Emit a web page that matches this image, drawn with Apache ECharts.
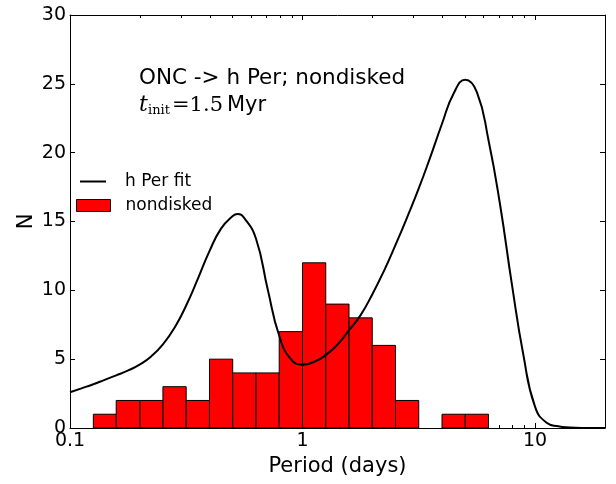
<!DOCTYPE html>
<html>
<head>
<meta charset="utf-8">
<script src="https://cdn.jsdelivr.net/npm/echarts@6/dist/echarts.min.js"></script>
<style>
html,body{margin:0;padding:0;background:#fff;}
#chart{width:616px;height:484px;}
</style>
</head>
<body>
<div id="chart"></div>
<script>
// Histogram bins (log-spaced, 0.1 dex) and counts of nondisked stars
const binLo  = [0.126, 0.158, 0.200, 0.251, 0.316, 0.398, 0.501, 0.631, 0.794, 1.000, 1.259, 1.585, 1.995, 2.512, 3.981, 5.012];
const binHi  = [0.158, 0.200, 0.251, 0.316, 0.398, 0.501, 0.631, 0.794, 1.000, 1.259, 1.585, 1.995, 2.512, 3.162, 5.012, 6.310];
const counts = [1, 2, 2, 3, 2, 5, 4, 4, 7, 12, 9, 8, 6, 2, 1, 1];

// h Per fit curve
const fitPeriod = [0.1, 0.112, 0.126, 0.141, 0.158, 0.178, 0.2, 0.224, 0.251, 0.282, 0.316, 0.355, 0.398, 0.447, 0.501, 0.525, 0.562, 0.631, 0.708, 0.794, 0.891, 1.0, 1.122, 1.259, 1.413, 1.585, 1.778, 1.995, 2.239, 2.512, 2.818, 3.162, 3.548, 3.981, 4.467, 5.012, 5.623, 6.310, 7.079, 7.943, 8.913, 10.0, 11.22, 12.59, 14.13, 15.85, 20];
const fitN      = [2.6, 2.88, 3.18, 3.5, 3.82, 4.18, 4.62, 5.22, 6.08, 7.3, 8.9, 10.85, 12.85, 14.5, 15.4, 15.55, 15.25, 13.75, 10.1, 6.7, 5.0, 4.6, 4.8, 5.3, 6.05, 7.1, 8.2, 9.7, 11.4, 13.3, 15.3, 17.4, 19.7, 22.1, 24.3, 25.3, 24.4, 20.9, 16.2, 10.5, 5.3, 1.55, 0.38, 0.12, 0.03, 0, 0];

// Tick values
const xMajorTicks = [0.1, 1, 10];
const xMinorTicks = [0.2, 0.3, 0.4, 0.5, 0.6, 0.7, 0.8, 0.9, 2, 3, 4, 5, 6, 7, 8, 9, 20];

const FONT = 'DejaVu Sans';
const chart = echarts.init(document.getElementById('chart'), null, {renderer: 'canvas'});

const histData = binLo.map((lo, i) => [lo, binHi[i], counts[i]]);
const fitData = fitPeriod.map((p, i) => [p, fitN[i]]);

function fmtX(v) {
  const l = Math.round(Math.log10(v));
  if (Math.abs(Math.log10(v) - l) > 1e-6) return '';
  return l < 0 ? '0.1' : String(Math.pow(10, l));
}

const xBase = {type: 'log', logBase: 10, min: 0.1, max: 20, gridIndex: 0, splitLine: {show: false}, minorTick: {show: false}};

chart.setOption({
  animation: false,
  backgroundColor: '#fff',
  grid: {left: 70, right: 11, top: 15, bottom: 56, containLabel: false},
  xAxis: [
    Object.assign({}, xBase, {
      position: 'bottom',
      axisLine: {show: true, lineStyle: {color: '#000', width: 1}},
      axisTick: {show: true, inside: true, length: 5, lineStyle: {color: '#000'}, customValues: xMajorTicks},
      axisLabel: {show: true, color: '#000', fontFamily: FONT, fontSize: 19, margin: 4, customValues: xMajorTicks, formatter: fmtX},
      name: 'Period (days)', nameLocation: 'middle', nameGap: 26,
      nameTextStyle: {color: '#000', fontFamily: FONT, fontSize: 21}
    }),
    Object.assign({}, xBase, {
      position: 'bottom',
      axisLine: {show: false},
      axisTick: {show: true, inside: true, length: 3, lineStyle: {color: '#000'}, customValues: xMinorTicks},
      axisLabel: {show: false}
    }),
    Object.assign({}, xBase, {
      position: 'top',
      axisLine: {show: true, lineStyle: {color: '#000', width: 1}},
      axisTick: {show: true, inside: true, length: 5, lineStyle: {color: '#000'}, customValues: xMajorTicks},
      axisLabel: {show: false}
    }),
    Object.assign({}, xBase, {
      position: 'top',
      axisLine: {show: false},
      axisTick: {show: true, inside: true, length: 3, lineStyle: {color: '#000'}, customValues: xMinorTicks},
      axisLabel: {show: false}
    })
  ],
  yAxis: [
    {
      type: 'value', min: 0, max: 30, interval: 5, position: 'left',
      splitLine: {show: false},
      axisLine: {show: true, lineStyle: {color: '#000', width: 1}},
      axisTick: {show: true, inside: true, length: 5, lineStyle: {color: '#000'}},
      axisLabel: {color: '#000', fontFamily: FONT, fontSize: 19, margin: 4},
      name: 'N', nameLocation: 'middle', nameGap: 38, nameMoveOverlap: false,
      nameTextStyle: {color: '#000', fontFamily: FONT, fontSize: 21, padding: [0, 0, -5, 0]}
    },
    {
      type: 'value', min: 0, max: 30, interval: 5, position: 'right',
      splitLine: {show: false},
      axisLine: {show: true, lineStyle: {color: '#000', width: 1}},
      axisTick: {show: true, inside: true, length: 5, lineStyle: {color: '#000'}},
      axisLabel: {show: false}
    }
  ],
  legend: [
    {
      data: [{name: 'h Per fit', icon: 'path://M0,0L26,0L26,2L0,2Z', itemStyle: {color: '#000'}}],
      left: 80, top: 173, orient: 'vertical', padding: 0,
      itemWidth: 26, itemHeight: 14,
      textStyle: {color: '#000', fontFamily: FONT, fontSize: 17, padding: [0, 0, 0, 14]},
      selectedMode: false
    },
    {
      data: [{name: 'nondisked', icon: 'rect', itemStyle: {color: '#ff0000', borderColor: '#000', borderWidth: 1}}],
      left: 76, top: 197, orient: 'vertical', padding: 0,
      itemWidth: 34, itemHeight: 12,
      textStyle: {color: '#000', fontFamily: FONT, fontSize: 17, padding: [0, 0, 0, 10]},
      selectedMode: false
    }
  ],
  graphic: [
    {type: 'text', left: 139, top: 67, z: 100, style: {text: 'ONC -> h Per; nondisked', fill: '#000', font: '21.5px "DejaVu Sans"'}},
    {type: 'text', x: 139, y: 94, z: 100, style: {text: 't', fill: '#000', font: 'italic 22px "DejaVu Serif"'}},
    {type: 'text', x: 148, y: 104, z: 100, style: {text: 'init', fill: '#000', font: '13px "DejaVu Serif"'}},
    {type: 'text', x: 172, y: 95, z: 100, style: {text: '=1.5', fill: '#000', font: '21px "DejaVu Serif"'}},
    {type: 'text', x: 227, y: 95, z: 100, style: {text: 'Myr', fill: '#000', font: '21px "DejaVu Sans"'}}
  ],
  series: [
    {
      name: 'nondisked',
      type: 'custom',
      xAxisIndex: 0, yAxisIndex: 0,
      itemStyle: {color: '#ff0000', borderColor: '#000', borderWidth: 1},
      encode: {x: [0, 1], y: 2},
      data: histData,
      renderItem: function (params, api) {
        const p0 = api.coord([api.value(0), api.value(2)]);
        const p1 = api.coord([api.value(1), 0]);
        return {
          type: 'rect',
          shape: {x: p0[0], y: p0[1], width: p1[0] - p0[0], height: p1[1] - p0[1]},
          style: {fill: '#ff0000', stroke: '#000', lineWidth: 1}
        };
      },
      z: 2
    },
    {
      name: 'h Per fit',
      type: 'line',
      xAxisIndex: 0, yAxisIndex: 0,
      data: fitData,
      smooth: 0.5,
      showSymbol: false,
      symbol: 'none',
      lineStyle: {color: '#000', width: 2},
      itemStyle: {color: '#000'},
      z: 5
    }
  ]
});
</script>
</body>
</html>
